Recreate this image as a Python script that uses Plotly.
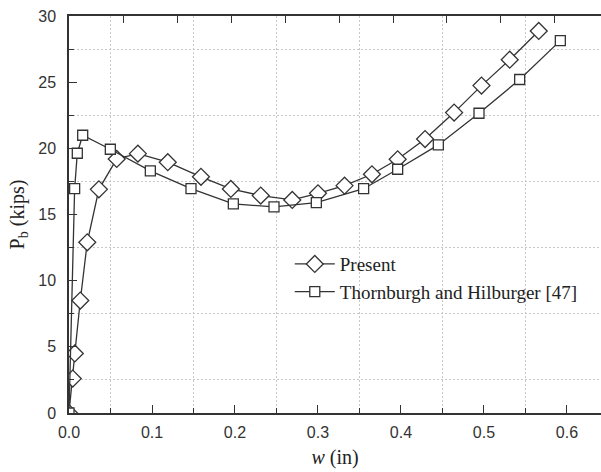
import plotly.graph_objects as go

present_w = [0.0, 0.0045, 0.007, 0.0136, 0.022, 0.036, 0.0575, 0.083, 0.119, 0.159, 0.195, 0.231,
             0.269, 0.300, 0.332, 0.365, 0.396, 0.429, 0.464, 0.497, 0.531, 0.566]
present_p = [0.0, 2.6, 4.5, 8.5, 12.9, 16.9, 19.2, 19.6, 18.95, 17.85, 16.93, 16.43,
             16.1, 16.6, 17.18, 18.04, 19.17, 20.7, 22.7, 24.74, 26.7, 28.87]

th_w = [0.0, 0.0068, 0.010, 0.0165, 0.0498, 0.098, 0.147, 0.198, 0.247, 0.298, 0.355, 0.396,
        0.445, 0.494, 0.543, 0.592]
th_p = [0.0, 16.95, 19.63, 20.99, 19.93, 18.3, 16.95, 15.8, 15.57, 15.9, 16.95, 18.42,
        20.26, 22.65, 25.2, 28.14]

series_names = ["Present", "Thornburgh and Hilburger [47]"]

# top-axis tick scale (separate from bottom axis)
top_range = [0, 4.926]

line_color = "#333333"
sans = "Liberation Sans"
serif = "Liberation Serif"

fig = go.Figure()
fig.add_trace(go.Scatter(
    x=present_w, y=present_p, mode="lines+markers", name=series_names[0],
    line=dict(color=line_color, width=1.3),
    marker=dict(symbol="diamond", size=13, color="white", line=dict(color=line_color, width=1.3)),
))
fig.add_trace(go.Scatter(
    x=th_w, y=th_p, mode="lines+markers", name=series_names[1],
    line=dict(color=line_color, width=1.3),
    marker=dict(symbol="square", size=10, color="white", line=dict(color=line_color, width=1.3)),
))
# invisible helper trace so that the top axis (xaxis2) is drawn
fig.add_trace(go.Scatter(x=top_range, y=[0, 30], xaxis="x2", yaxis="y", mode="lines",
                         line=dict(color="rgba(0,0,0,0)", width=0), showlegend=False, hoverinfo="skip"))

grid_minor = dict(ticks="inside", ticklen=5, tickcolor=line_color, tickwidth=1.3, showgrid=True,
                  gridcolor="#c8c8c8", griddash="2px,2px", gridwidth=1)

fig.update_layout(
    xaxis=dict(
        range=[0, 0.641], dtick=0.1, tick0=0, tickformat=".1f",
        showline=True, linecolor=line_color, linewidth=1.5, mirror=False,
        ticks="inside", ticklen=8, tickwidth=1.3, tickcolor=line_color,
        showgrid=False, zeroline=False, ticklabelstandoff=4,
        tickfont=dict(family=sans, size=16, color="#333333"),
        minor=dict(dtick=0.05, **grid_minor),
        title=dict(text="<i>w</i> (in)", font=dict(family=serif, size=20, color="#222"), standoff=10),
    ),
    yaxis=dict(
        range=[0, 30], dtick=5, tick0=0,
        showline=True, linecolor=line_color, linewidth=1.5, mirror=False,
        ticks="inside", ticklen=8, tickwidth=1.3, tickcolor=line_color,
        showgrid=False, zeroline=False, ticklabelstandoff=8,
        tickfont=dict(family=sans, size=16, color="#333333"),
        minor=dict(dtick=2.5, **grid_minor),
        title=dict(text="P<sub>b</sub> (kips)", font=dict(family=serif, size=20, color="#222"), standoff=8),
    ),
    xaxis2=dict(
        overlaying="x", side="top", anchor="y", range=top_range, dtick=0.5, tick0=0,
        showline=True, linecolor=line_color, linewidth=1.6,
        ticks="inside", ticklen=7, tickwidth=1.3, tickcolor=line_color,
        showticklabels=False, showgrid=False, zeroline=False,
    ),
)

fig.update_layout(
    width=601, height=472,
    margin=dict(l=69, r=0, t=16, b=59),
    plot_bgcolor="white", paper_bgcolor="white",
    legend=dict(x=0.415, y=0.423, xanchor="left", yanchor="top", bgcolor="rgba(0,0,0,0)",
                font=dict(family=serif, size=19, color="#222"),
                tracegroupgap=0, itemwidth=40),
    showlegend=True,
)

fig.write_html("out.html")
